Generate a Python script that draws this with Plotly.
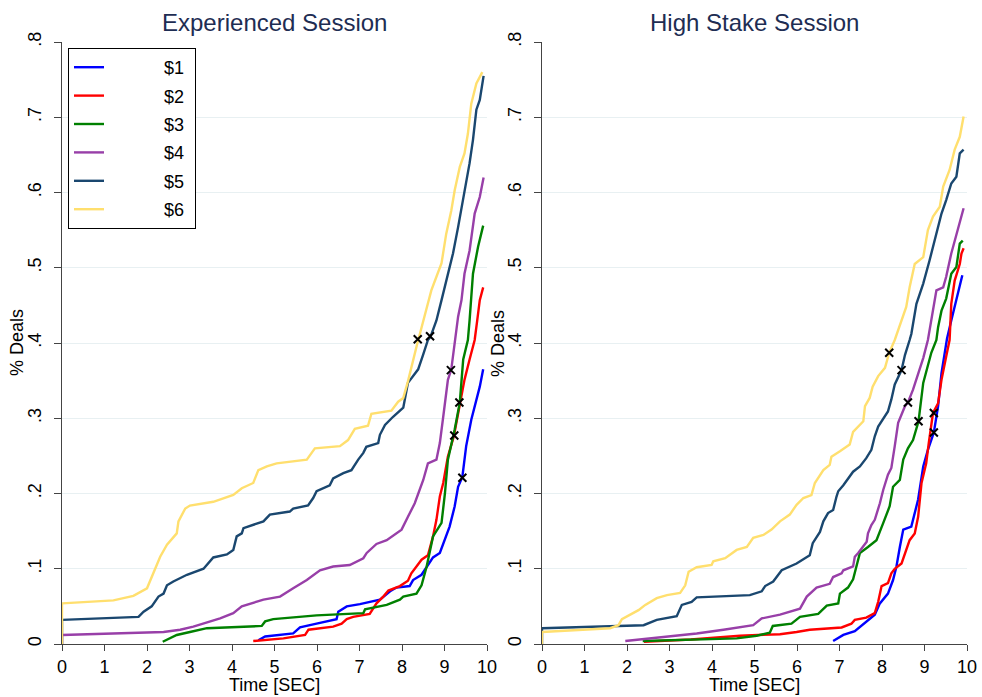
import plotly.graph_objects as go

# ---------------- data: Experienced Session ----------------
exp_t1 = [4.62,4.78,5.44,5.60,5.99,6.46,6.50,6.70,7.01,7.48,7.72,7.87,8.18,8.26,8.46,8.58,8.73,8.89,9.01,9.12,9.24,9.32,9.42,9.51,9.63,9.75,9.83,9.91]
exp_p1 = [.005,.010,.014,.022,.027,.033,.043,.050,.053,.059,.070,.075,.077,.085,.092,.103,.115,.121,.138,.156,.183,.209,.222,.263,.298,.325,.342,.365]
exp_t2 = [4.50,5.21,5.72,5.80,6.38,6.58,6.70,6.85,7.24,7.32,7.40,7.56,7.68,7.95,8.14,8.22,8.34,8.46,8.61,8.73,8.81,8.89,8.97,9.08,9.22,9.36,9.47,9.59,9.71,9.77,9.83,9.91]
exp_p2 = [.004,.0075,.012,.019,.023,.027,.033,.036,.040,.047,.054,.063,.071,.077,.084,.094,.103,.112,.118,.143,.165,.196,.214,.249,.276,.316,.351,.378,.404,.430,.457,.474]
exp_t3 = [2.37,2.70,3.01,3.41,4.70,4.78,4.97,5.60,5.99,7.09,7.13,7.64,7.95,8.03,8.34,8.46,8.58,8.73,8.93,9.01,9.08,9.24,9.36,9.44,9.55,9.59,9.67,9.79,9.91]
exp_p3 = [.003,.012,.016,.021,.024,.030,.033,.036,.038,.041,.046,.052,.059,.063,.067,.078,.103,.143,.161,.200,.245,.285,.321,.378,.404,.430,.492,.528,.556]
exp_t4 = [0,0,2.39,2.78,3.09,3.33,3.72,4.03,4.23,4.74,5.13,5.44,5.76,6.07,6.38,6.77,7.09,7.17,7.40,7.64,7.99,8.14,8.30,8.50,8.61,8.81,8.89,8.97,9.08,9.16,9.24,9.32,9.40,9.47,9.59,9.71,9.83,9.92]
exp_p4 = [0,.012,.016,.019,.023,.027,.034,.041,.050,.059,.063,.074,.085,.098,.103,.105,.114,.121,.133,.138,.152,.169,.187,.218,.240,.245,.267,.302,.351,.365,.404,.435,.457,.492,.523,.572,.594,.620]
exp_t5 = [0,0,1.80,1.92,2.11,2.27,2.39,2.47,2.62,2.94,3.33,3.56,3.88,4.03,4.11,4.23,4.27,4.74,4.89,5.36,5.44,5.79,5.91,5.99,6.30,6.38,6.62,6.81,6.97,7.09,7.16,7.44,7.48,7.60,7.79,8.03,8.14,8.26,8.38,8.50,8.61,8.67,8.81,8.93,9.08,9.20,9.32,9.44,9.59,9.67,9.75,9.83,9.92]
exp_p5 = [0,.032,.036,.043,.050,.063,.067,.078,.083,.092,.100,.115,.119,.125,.143,.147,.154,.163,.172,.176,.180,.184,.194,.203,.211,.220,.227,.231,.245,.254,.262,.267,.278,.291,.302,.314,.347,.356,.365,.385,.404,.408,.430,.457,.492,.519,.554,.590,.639,.670,.710,.723,.755]
exp_t6 = [0,0,1.21,1.68,2.00,2.15,2.31,2.47,2.70,2.74,2.90,3.01,3.56,4.03,4.23,4.50,4.62,4.82,5.05,5.76,5.83,5.95,6.54,6.73,6.89,7.20,7.28,7.75,7.91,8.03,8.14,8.26,8.38,8.42,8.54,8.69,8.81,8.93,9.04,9.16,9.24,9.36,9.47,9.55,9.63,9.75,9.89]
exp_p6 = [0,.054,.058,.064,.074,.094,.116,.132,.147,.163,.180,.184,.189,.198,.207,.214,.231,.236,.240,.245,.251,.260,.263,.271,.286,.290,.306,.310,.322,.327,.349,.378,.404,.412,.439,.470,.488,.506,.545,.576,.603,.634,.652,.678,.718,.745,.760]
exp_mark_t = [9.42, 9.23, 9.35, 9.15, 8.66, 8.37]
exp_mark_p = [.221, .277, .321, .364, .409, .405]

# ---------------- data: High Stake Session ----------------
hi_t1 = [6.85,7.09,7.36,7.63,7.83,7.95,8.14,8.26,8.34,8.42,8.50,8.69,8.77,8.85,8.97,9.08,9.22,9.32,9.40,9.48,9.53,9.63,9.75,9.83,9.89]
hi_p1 = [.004,.012,.017,.030,.039,.054,.067,.085,.103,.129,.152,.156,.174,.192,.236,.258,.281,.316,.360,.391,.406,.430,.457,.479,.490]
hi_t2 = [2.40,3.50,4.66,5.60,5.99,6.30,7.05,7.28,7.36,7.63,7.83,7.91,7.99,8.14,8.22,8.30,8.46,8.54,8.65,8.77,8.85,8.93,9.04,9.10,9.20,9.32,9.40,9.51,9.59,9.63,9.71,9.83,9.87,9.92]
hi_p2 = [.003,.006,.011,.013,.016,.019,.022,.027,.032,.035,.041,.056,.077,.081,.094,.100,.107,.121,.138,.147,.169,.214,.240,.267,.307,.320,.351,.382,.404,.452,.483,.505,.519,.526]
hi_t3 = [2.37,4.58,5.05,5.36,5.43,5.87,6.07,6.50,6.70,6.97,7.01,7.20,7.32,7.40,7.48,7.67,7.87,8.03,8.18,8.26,8.42,8.50,8.61,8.73,8.86,8.97,9.08,9.16,9.28,9.32,9.40,9.51,9.63,9.75,9.83,9.90]
hi_p3 = [.004,.0075,.011,.015,.024,.027,.036,.040,.051,.054,.067,.075,.086,.103,.121,.129,.138,.161,.183,.209,.218,.245,.260,.271,.296,.347,.369,.387,.404,.421,.443,.459,.492,.501,.532,.536]
hi_t4 = [1.96,2.70,3.64,4.27,4.97,5.17,5.60,6.07,6.15,6.23,6.46,6.77,6.85,7.05,7.09,7.32,7.36,7.44,7.64,7.67,7.75,7.83,7.95,8.03,8.14,8.22,8.30,8.38,8.54,8.61,8.73,8.81,8.89,8.97,9.08,9.12,9.20,9.28,9.44,9.51,9.63,9.75,9.83,9.92]
hi_p4 = [.004,.008,.014,.019,.025,.034,.039,.047,.056,.063,.075,.080,.089,.094,.098,.103,.116,.121,.136,.147,.158,.165,.187,.205,.225,.234,.263,.294,.316,.321,.338,.351,.365,.380,.404,.417,.443,.470,.474,.488,.519,.545,.559,.579]
hi_t5 = [0,0,2.39,2.70,3.17,3.29,3.52,3.64,4.89,5.17,5.25,5.44,5.64,5.99,6.30,6.37,6.54,6.62,6.73,6.85,6.93,6.97,7.09,7.24,7.32,7.48,7.63,7.75,7.83,7.91,8.03,8.14,8.22,8.30,8.46,8.54,8.65,8.69,8.81,8.97,9.12,9.24,9.40,9.51,9.63,9.75,9.83,9.92]
hi_p5 = [0,.021,.025,.032,.037,.052,.056,.062,.065,.070,.077,.083,.098,.107,.118,.134,.149,.163,.174,.178,.196,.203,.211,.223,.229,.236,.247,.258,.276,.289,.300,.309,.325,.345,.364,.384,.404,.412,.452,.479,.510,.537,.572,.590,.612,.621,.652,.657]
hi_t6 = [0,0,1.60,1.80,1.88,2.08,2.27,2.43,2.70,2.94,3.25,3.37,3.45,3.64,3.99,4.03,4.31,4.58,4.82,4.97,5.21,5.40,5.60,5.83,5.99,6.15,6.34,6.42,6.62,6.77,6.81,7.01,7.24,7.32,7.56,7.60,7.71,7.78,7.91,8.07,8.17,8.30,8.46,8.57,8.65,8.77,8.97,9.08,9.20,9.36,9.44,9.59,9.71,9.83,9.92]
hi_p6 = [0,.016,.021,.025,.033,.039,.045,.052,.061,.065,.068,.078,.096,.102,.105,.110,.114,.125,.129,.141,.145,.152,.163,.172,.185,.194,.198,.214,.231,.238,.249,.256,.265,.282,.296,.316,.327,.342,.356,.367,.387,.404,.430,.448,.474,.505,.514,.550,.568,.581,.608,.630,.657,.674,.701]
hi_mark_t = [9.22, 9.22, 8.86, 8.61, 8.46, 8.17]
hi_mark_p = [.281, .307, .296, .321, .364, .387]

series_names = ["$1", "$2", "$3", "$4", "$5", "$6"]
series_colors = ["#0000ff", "#ff0000", "#008000", "#983fa8", "#1a476f", "#ffdf6e"]
y_tick_vals = [0, .1, .2, .3, .4, .5, .6, .7, .8]
y_tick_text = ["0", ".1", ".2", ".3", ".4", ".5", ".6", ".7", ".8"]
x_tick_vals = list(range(0, 11))
panel_titles = ["Experienced Session", "High Stake Session"]

exp_series = [(exp_t1, exp_p1), (exp_t2, exp_p2), (exp_t3, exp_p3), (exp_t4, exp_p4), (exp_t5, exp_p5), (exp_t6, exp_p6)]
hi_series = [(hi_t1, hi_p1), (hi_t2, hi_p2), (hi_t3, hi_p3), (hi_t4, hi_p4), (hi_t5, hi_p5), (hi_t6, hi_p6)]

FONT = "Liberation Sans, Arial, Helvetica, sans-serif"
W, H = 982, 697
PAD = "\u00a0" * 11  # widens the legend so its labels sit where the reference has them

fig = go.Figure()
for panel, (series, mt, mp) in enumerate([(exp_series, exp_mark_t, exp_mark_p), (hi_series, hi_mark_t, hi_mark_p)]):
    xa = "x" if panel == 0 else "x2"
    ya = "y" if panel == 0 else "y2"
    for i, (t, p) in enumerate(series):
        fig.add_trace(go.Scatter(
            x=t, y=p, mode="lines", name=PAD + series_names[i] + "\u00a0",
            line=dict(color=series_colors[i], width=2.4),
            xaxis=xa, yaxis=ya, showlegend=(panel == 0), legendgroup=series_names[i]))
    fig.add_trace(go.Scatter(
        x=mt, y=mp, mode="markers", showlegend=False,
        marker=dict(symbol="x-thin", size=8, line=dict(color="black", width=2)),
        xaxis=xa, yaxis=ya))

# plot-area geometry (pixels)
left_x0, left_x1 = 62, 487
right_x0, right_x1 = 542, 967
y_top, y_bot = 42, 644

def xd(a, b):
    return [a / W, b / W]

ydom = [1 - y_bot / H, 1 - y_top / H]

axis_common = dict(showline=True, linecolor="#444444", linewidth=1.3, ticks="outside",
                   tickcolor="#444444", tickwidth=1.2, zeroline=False,
                   automargin=False,
                   tickfont=dict(family=FONT, size=18, color="black"))

fig.update_layout(
    width=W, height=H,
    margin=dict(l=0, r=0, t=0, b=0, autoexpand=False),
    paper_bgcolor="white", plot_bgcolor="white",
    font=dict(family=FONT, color="black"),
    xaxis=dict(domain=xd(left_x0, left_x1), range=[0, 10], tickvals=x_tick_vals,
               showgrid=False, anchor="y", ticklen=6, ticklabelstandoff=0, **axis_common),
    yaxis=dict(domain=ydom, range=[0, 0.8], tickvals=y_tick_vals, ticktext=y_tick_text,
               tickangle=-90, showgrid=True, gridcolor="#e8f0f2", gridwidth=1,
               anchor="x", ticklen=7, ticklabelstandoff=6, **axis_common),
    xaxis2=dict(domain=xd(right_x0, right_x1), range=[0, 10], tickvals=x_tick_vals,
                showgrid=False, anchor="y2", ticklen=6, ticklabelstandoff=0, **axis_common),
    yaxis2=dict(domain=ydom, range=[0, 0.8], tickvals=y_tick_vals, ticktext=y_tick_text,
                tickangle=-90, showgrid=True, gridcolor="#e8f0f2", gridwidth=1,
                anchor="x2", ticklen=7, ticklabelstandoff=6, **axis_common),
    legend=dict(x=68 / W, y=1 - 48 / H, xanchor="left", yanchor="top",
                bordercolor="black", borderwidth=1, bgcolor="white",
                font=dict(family=FONT, size=18, color="black"),
                tracegroupgap=2),
    showlegend=True,
)

annotations = []
for cx, title in zip([(left_x0 + left_x1) / 2, (right_x0 + right_x1) / 2], panel_titles):
    annotations.append(dict(x=cx / W, y=1 - 22 / H, xref="paper", yref="paper",
                            text=title, showarrow=False, xanchor="center", yanchor="middle",
                            font=dict(family=FONT, size=24, color="#1e2d53")))
    annotations.append(dict(x=cx / W, y=1 - 685 / H, xref="paper", yref="paper",
                            text="Time [SEC]", showarrow=False, xanchor="center", yanchor="middle",
                            font=dict(family=FONT, size=18, color="black")))
for yx in [17, 498]:
    annotations.append(dict(x=yx / W, y=1 - ((y_top + y_bot) / 2) / H, xref="paper", yref="paper",
                            text="% Deals", showarrow=False, textangle=-90,
                            xanchor="center", yanchor="middle",
                            font=dict(family=FONT, size=18, color="black")))
fig.update_layout(annotations=annotations)

fig.write_html("out.html")
